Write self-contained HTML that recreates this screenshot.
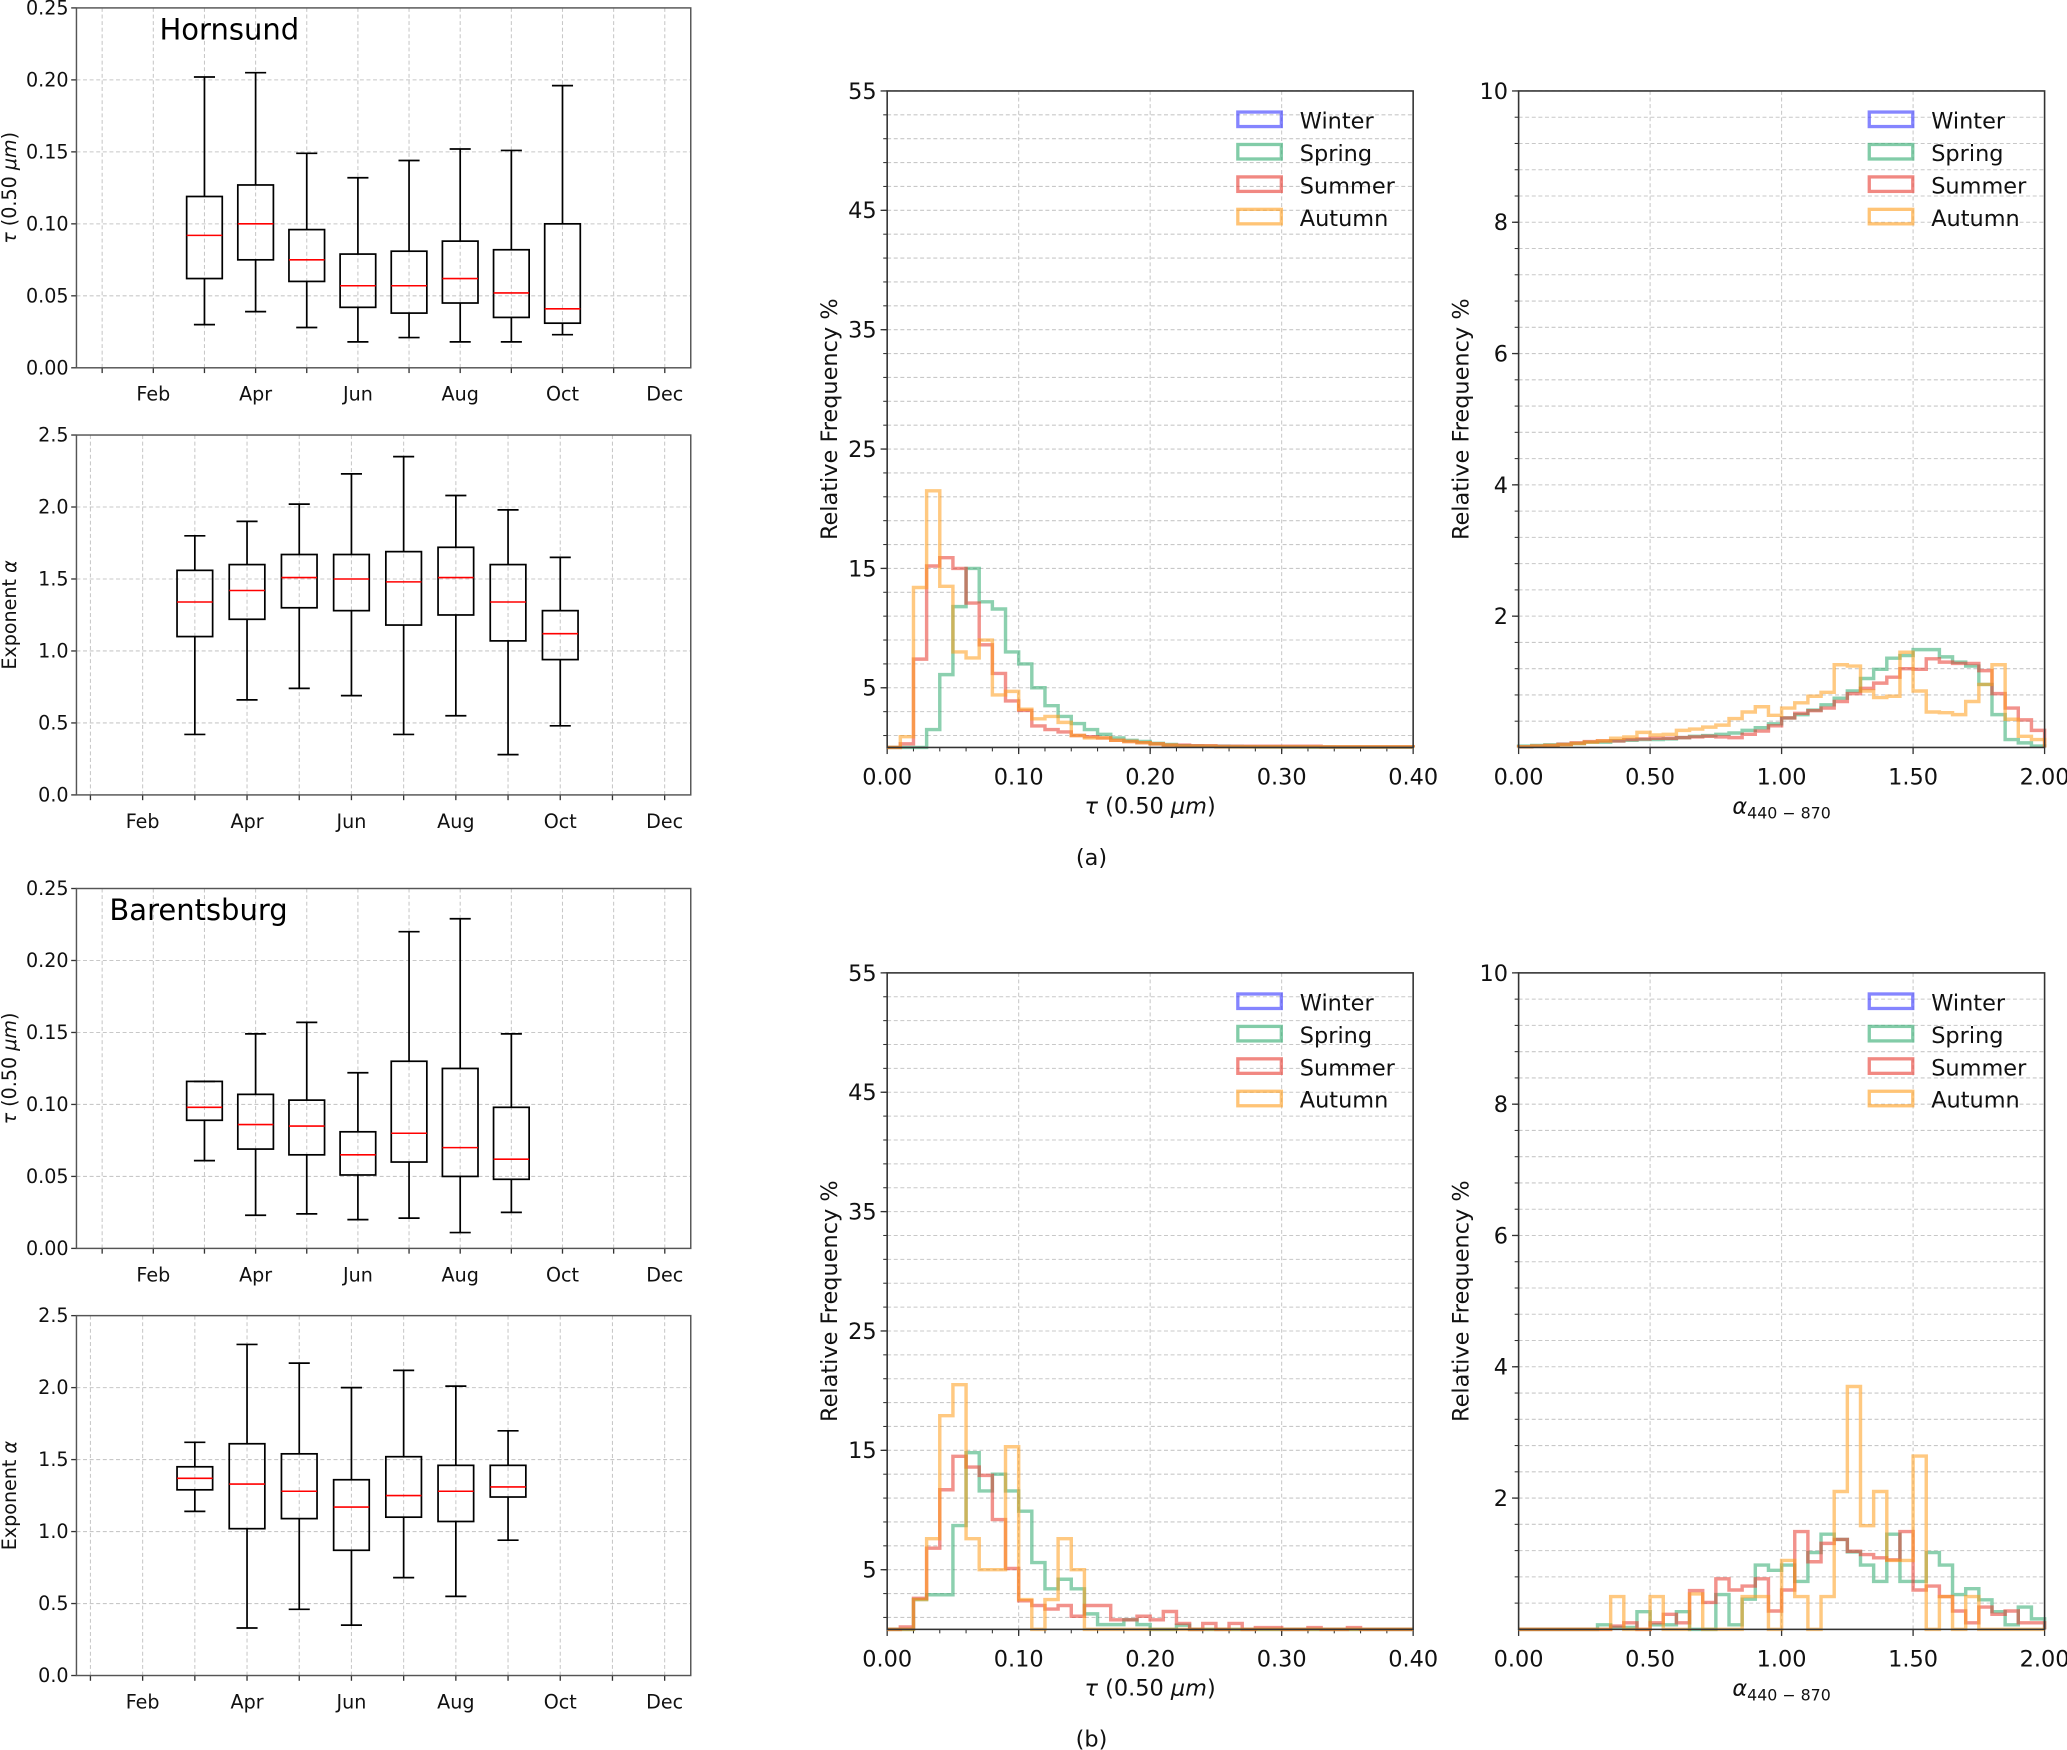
<!DOCTYPE html>
<html><head><meta charset="utf-8"><style>
html,body{margin:0;padding:0;background:#fff;}
svg{display:block;font-family:"DejaVu Sans","Liberation Sans",sans-serif;}
</style></head><body>
<svg id="fig" width="2067" height="1750" viewBox="0 0 1568 1327.5" preserveAspectRatio="none" xmlns="http://www.w3.org/2000/svg"></svg>
<script>
// ---------- Box plot data: [whislo, q1, median, q3, whishi], months starting March ----------
const monthLabels = ["Jan","Feb","Mar","Apr","May","Jun","Jul","Aug","Sep","Oct","Nov","Dec"];
const hornTau = [[0.030,0.062,0.092,0.119,0.202],[0.039,0.075,0.100,0.127,0.205],[0.028,0.060,0.075,0.096,0.149],[0.018,0.042,0.057,0.079,0.132],[0.021,0.038,0.057,0.081,0.144],[0.018,0.045,0.062,0.088,0.152],[0.018,0.035,0.052,0.082,0.151],[0.023,0.031,0.041,0.100,0.196]];
const hornAlpha = [[0.42,1.10,1.34,1.56,1.80],[0.66,1.22,1.42,1.60,1.90],[0.74,1.30,1.51,1.67,2.02],[0.69,1.28,1.50,1.67,2.23],[0.42,1.18,1.48,1.69,2.35],[0.55,1.25,1.51,1.72,2.08],[0.28,1.07,1.34,1.60,1.98],[0.48,0.94,1.12,1.28,1.65]];
const barTau = [[0.061,0.089,0.098,0.116,0.116],[0.023,0.069,0.086,0.107,0.149],[0.024,0.065,0.085,0.103,0.157],[0.020,0.051,0.065,0.081,0.122],[0.021,0.060,0.080,0.130,0.220],[0.011,0.050,0.070,0.125,0.229],[0.025,0.048,0.062,0.098,0.149]];
const barAlpha = [[1.14,1.29,1.37,1.45,1.62],[0.33,1.02,1.33,1.61,2.30],[0.46,1.09,1.28,1.54,2.17],[0.35,0.87,1.17,1.36,2.00],[0.68,1.10,1.25,1.52,2.12],[0.55,1.07,1.28,1.46,2.01],[0.94,1.24,1.31,1.46,1.70]];

// ---------- Histogram data (40 bins each) ----------
const hornTauSpring = [0,0,0,1.5,6.1,11.8,15,12.2,11.6,8,7,5,3.5,2.6,2.0,1.5,1.1,0.8,0.6,0.5,0.35,0.25,0.15,0.12,0.1,0.1,0.08,0.06,0.05,0.05,0.04,0.04,0.03,0.03,0.02,0.02,0.02,0.02,0.02,0.02];
const hornTauSummer = [0,0.3,7.4,15.2,15.9,15,12.1,8.6,6.2,3.9,3.1,1.8,1.5,1.3,1.0,0.9,0.8,0.6,0.5,0.4,0.3,0.2,0.2,0.15,0.15,0.1,0.1,0.1,0.1,0.1,0.1,0.1,0.1,0.05,0.05,0.05,0.05,0.05,0.05,0.05];
const hornTauAutumn = [0,0.9,13.4,21.5,13.5,8,7.5,9,4.4,4.7,3.2,2.4,2.6,2.1,1.0,0.8,0.8,0.6,0.5,0.4,0.3,0.2,0.1,0.1,0.1,0.05,0.05,0.05,0.05,0.05,0.05,0.05,0.05,0.05,0.05,0.05,0.05,0.05,0.05,0.05];
const hornAlphaSpring = [0.02,0.03,0.04,0.05,0.06,0.08,0.08,0.1,0.11,0.12,0.12,0.13,0.15,0.17,0.18,0.2,0.22,0.26,0.3,0.36,0.45,0.5,0.57,0.65,0.75,0.86,1.05,1.19,1.36,1.40,1.49,1.49,1.38,1.30,1.24,0.96,0.5,0.12,0.07,0.02];
const hornAlphaSummer = [0.01,0.02,0.03,0.05,0.07,0.09,0.1,0.1,0.12,0.13,0.14,0.14,0.15,0.16,0.17,0.16,0.15,0.2,0.25,0.33,0.45,0.52,0.56,0.6,0.7,0.82,0.9,0.98,1.07,1.2,1.19,1.35,1.3,1.28,1.28,1.17,0.82,0.6,0.42,0.26];
const hornAlphaAutumn = [0.01,0.02,0.03,0.04,0.06,0.08,0.1,0.14,0.16,0.23,0.19,0.2,0.26,0.28,0.31,0.34,0.44,0.54,0.62,0.49,0.6,0.68,0.78,0.84,1.26,1.24,0.86,0.76,0.78,1.45,0.86,0.54,0.53,0.5,0.7,0.96,1.26,0.43,0.17,0.12];
const barTauSpring = [0,0,2.5,2.9,2.9,8.7,14.8,11.6,13,11.6,9.9,5.6,3.4,4.2,3.4,1.3,0.4,0.4,0.8,0.4,0,0,0.35,0,0,0,0,0,0,0,0,0,0,0,0,0,0,0,0,0];
const barTauSummer = [0,0.2,2.6,6.8,11.7,14.5,13.6,12.9,9.2,5.1,2.4,2.0,1.7,2.0,1.1,2,2,0.8,0.8,1.1,0.8,1.5,0.5,0,0.5,0,0.5,0,0.15,0.15,0,0,0.15,0,0,0.15,0,0,0,0];
const barTauAutumn = [0,0,2.5,7.6,17.9,20.5,7.6,5.0,5,15.3,2.5,0,2.5,7.6,5,0,0,0,0,0,0,0,0,0,0,0,0,0,0,0,0,0,0,0,0,0,0,0,0,0];
const barAlphaSpring = [0,0,0,0,0,0,0.07,0.03,0.03,0.27,0.07,0.07,0.27,0,0,0.53,0.07,0.46,0.98,0.9,0.98,0.73,1.17,1.45,1.37,1.18,0.98,0.73,1.45,0.73,0.73,1.17,0.98,0.53,0.62,0.45,0.27,0.07,0.34,0.16];
const barAlphaSummer = [0,0,0,0,0,0,0,0.05,0.1,0,0.1,0.23,0.1,0.59,0.41,0.77,0.6,0.66,0.77,0.28,0.6,1.49,1.03,1.31,1.37,1.19,1.14,1.09,1.06,1.49,0.6,0.66,0.5,0.28,0.1,0.34,0.23,0.28,0.1,0.1];
const barAlphaAutumn = [0,0,0,0,0,0,0,0.5,0,0,0.5,0,0,0.54,0,0,0,0.5,0.5,0,1.05,0.5,0,0.5,2.1,3.7,1.58,2.1,1.05,1.05,2.64,0,0.5,0,0.5,0,0,0,0,0];
const legendLabels = ["Winter","Spring","Summer","Autumn"];

const NS = "http://www.w3.org/2000/svg";
const svg = document.getElementById("fig");
function mk(tag, attrs, parent, text) {
  const e = document.createElementNS(NS, tag);
  for (const k in attrs) e.setAttribute(k, attrs[k]);
  if (text !== undefined) e.textContent = text;
  (parent || svg).appendChild(e);
  return e;
}

// ---------- Box plot panel ----------
function boxPanel(name, top, ymax, yfmt, jan, step, data, title, ylabelKind) {
  const L = 58, R = 524, T = top, B = top + 273;
  const g = mk("g", {});
  
  
  const xs = m => jan + (m - 1) * step;
  const ys = v => B - (v / ymax) * (B - T);
  for (let m = 1; m <= 12; m++) {
    const gl = mk("line", {x1: xs(m), x2: xs(m), y1: T, y2: B, stroke: "#c8c8c8", "stroke-width": 0.8, "stroke-dasharray": "3,2"}, g);
    
    
    const tk = mk("line", {x1: xs(m), x2: xs(m), y1: B, y2: B + 4, stroke: "#333", "stroke-width": 1}, g);
    
    
    if (m % 2 === 0) {
      const t = mk("text", {x: xs(m), y: B + 25, "font-size": 14.5, "text-anchor": "middle", fill: "#111"}, g, monthLabels[m - 1]);
      
      
    }
  }
  for (let i = 0; i <= 5; i++) {
    const v = ymax * i / 5;
    if (i > 0 && i < 5) {
      const gl = mk("line", {x1: L, x2: R, y1: ys(v), y2: ys(v), stroke: "#c8c8c8", "stroke-width": 0.8, "stroke-dasharray": "3,2"}, g);
      
      
    }
    const tk = mk("line", {x1: L - 4, x2: L, y1: ys(v), y2: ys(v), stroke: "#333", "stroke-width": 1}, g);
    
    
    const t = mk("text", {x: L - 6, y: ys(v) + 5, "font-size": 14.5, "text-anchor": "end", fill: "#111"}, g, v.toFixed(yfmt));
    
    
  }
  const fr = mk("rect", {x: L, y: T, width: R - L, height: B - T, fill: "none", stroke: "#555", "stroke-width": 1.1}, g);
  
  
  data.forEach((d, i) => {
    const cx = xs(3 + i), hw = 13.5, cw = 8;
    const bg = mk("g", {stroke: "#000", "stroke-width": 1.3, fill: "none"}, g);
    
    
    mk("line", {x1: cx, x2: cx, y1: ys(d[0]), y2: ys(d[1])}, bg);
    mk("line", {x1: cx, x2: cx, y1: ys(d[3]), y2: ys(d[4])}, bg);
    mk("line", {x1: cx - cw, x2: cx + cw, y1: ys(d[0]), y2: ys(d[0])}, bg);
    mk("line", {x1: cx - cw, x2: cx + cw, y1: ys(d[4]), y2: ys(d[4])}, bg);
    mk("rect", {x: cx - hw, y: ys(d[3]), width: 2 * hw, height: ys(d[1]) - ys(d[3])}, bg);
    mk("line", {x1: cx - hw, x2: cx + hw, y1: ys(d[2]), y2: ys(d[2]), stroke: "#ff0000", "stroke-width": 1.2}, bg);
  });
  const yl = mk("text", {x: 0, y: 0, "font-size": 14.5, "text-anchor": "middle", fill: "#111", transform: `translate(12,${(T + B) / 2}) rotate(-90)`}, g);
  
  
  if (ylabelKind === "tau") {
    mk("tspan", {"font-style": "italic"}, yl, "τ");
    mk("tspan", {}, yl, " (0.50 ");
    mk("tspan", {"font-style": "italic"}, yl, "μm");
    mk("tspan", {}, yl, ")");
  } else {
    mk("tspan", {}, yl, "Exponent ");
    mk("tspan", {"font-style": "italic"}, yl, "α");
  }
  if (title) {
    const tt = mk("text", {x: title[1], y: T + 24, "font-size": 22, fill: "#000"}, g, title[0]);
    
    
  }
}
boxPanel("hornsund-tau-boxplot", 6, 0.25, 2, 77.5, 38.8, hornTau, ["Hornsund", 121], "tau");
boxPanel("hornsund-alpha-boxplot", 330, 2.5, 1, 68.6, 39.6, hornAlpha, null, "alpha");
boxPanel("barentsburg-tau-boxplot", 674, 0.25, 2, 77.5, 38.8, barTau, ["Barentsburg", 83], "tau");
boxPanel("barentsburg-alpha-boxplot", 998, 2.5, 1, 68.6, 39.6, barAlpha, null, "alpha");

// ---------- Histogram panel ----------
const seriesColors = ["#3333ff", "#2eaa6e", "#e8382e", "#ff9d1a"];
function histPanel(name, L, T, xmax, ymax, yLabels, gridStep, xTicks, xfmt, series, kind) {
  const R = L + 399, B = T + 498;
  const g = mk("g", {});
  
  
  const xs = v => L + (v / xmax) * (R - L);
  const ys = v => B - (v / ymax) * (B - T);
  for (let v = gridStep / 2 * (kind === "tau" ? 1 : 2); v <= ymax + 1e-9; v += gridStep) {
    const gl = mk("line", {x1: L, x2: R, y1: ys(v), y2: ys(v), stroke: "#c8c8c8", "stroke-width": 0.8, "stroke-dasharray": "3,2"}, g);
    
    
    const tk = mk("line", {x1: L - 3, x2: L, y1: ys(v), y2: ys(v), stroke: "#333", "stroke-width": 0.8}, g);
    
    
  }
  yLabels.forEach(v => {
    const tk = mk("line", {x1: L - 5, x2: L, y1: ys(v), y2: ys(v), stroke: "#333", "stroke-width": 1}, g);
    
    
    const t = mk("text", {x: L - 8, y: ys(v) + 6, "font-size": 17, "text-anchor": "end", fill: "#111"}, g, String(v));
    
    
  });
  xTicks.forEach((v, i) => {
    if (i > 0 && i < xTicks.length - 1) {
      const gl = mk("line", {x1: xs(v), x2: xs(v), y1: T, y2: B, stroke: "#c8c8c8", "stroke-width": 0.8, "stroke-dasharray": "3,2"}, g);
      
      
    }
    const tk = mk("line", {x1: xs(v), x2: xs(v), y1: B, y2: B + 5, stroke: "#333", "stroke-width": 1}, g);
    
    
    const t = mk("text", {x: xs(v), y: B + 28, "font-size": 17, "text-anchor": "middle", fill: "#111"}, g, v.toFixed(xfmt));
    
    
  });
  if (kind === "tau") {
    for (let v = 0.02; v < xmax; v += 0.02) {
      const tk = mk("line", {x1: xs(v), x2: xs(v), y1: B, y2: B + 3, stroke: "#333", "stroke-width": 0.8}, g);
      
      
    }
  }
  series.forEach((vals, si) => {
    const bw = xmax / vals.length;
    let d = `M${xs(0)},${ys(0)}`;
    vals.forEach((v, i) => { d += ` L${xs(i * bw)},${ys(v)} L${xs((i + 1) * bw)},${ys(v)}`; });
    d += ` L${xs(xmax)},${ys(0)}`;
    const p = mk("path", {d: d, fill: "none", stroke: seriesColors[si + 1], "stroke-opacity": 0.55, "stroke-width": 2.6, "stroke-linejoin": "miter"}, g);
    
    
  });
  const fr = mk("rect", {x: L, y: T, width: R - L, height: B - T, fill: "none", stroke: "#333", "stroke-width": 1.2}, g);
  
  
  const lg = mk("g", {}, g);
  
  
  legendLabels.forEach((lab, i) => {
    const y = T + 22 + i * 24.6;
    const e = mk("g", {}, lg);
    
    
    mk("rect", {x: L + 266, y: y - 6, width: 33, height: 11, fill: "none", stroke: seriesColors[i], "stroke-opacity": 0.6, "stroke-width": 2.5}, e);
    mk("text", {x: L + 313, y: y + 6.5, "font-size": 17, fill: "#111"}, e, lab);
  });
  const yl = mk("text", {x: 0, y: 0, "font-size": 17, "text-anchor": "middle", fill: "#111", transform: `translate(${L - 38},${T + 249}) rotate(-90)`}, g, "Relative Frequency %");
  
  
  const xl = mk("text", {x: (L + R) / 2, y: B + 50, "font-size": 17, "text-anchor": "middle", fill: "#111"}, g);
  
  
  if (kind === "tau") {
    mk("tspan", {"font-style": "italic"}, xl, "τ");
    mk("tspan", {}, xl, " (0.50 ");
    mk("tspan", {"font-style": "italic"}, xl, "μm");
    mk("tspan", {}, xl, ")");
  } else {
    mk("tspan", {"font-style": "italic"}, xl, "α");
    mk("tspan", {"font-size": 12, dy: 4}, xl, "440 − 870");
  }
}
const tauYLabels = [5, 15, 25, 35, 45, 55];
const alphaYLabels = [2, 4, 6, 8, 10];
const tauXTicks = [0, 0.1, 0.2, 0.3, 0.4];
const alphaXTicks = [0, 0.5, 1.0, 1.5, 2.0];
histPanel("hornsund-tau-histogram", 673, 69, 0.4, 55, tauYLabels, 2, tauXTicks, 2, [hornTauSpring, hornTauSummer, hornTauAutumn], "tau");
histPanel("hornsund-alpha-histogram", 1152, 69, 2, 10, alphaYLabels, 0.4, alphaXTicks, 2, [hornAlphaSpring, hornAlphaSummer, hornAlphaAutumn], "alpha");
histPanel("barentsburg-tau-histogram", 673, 738, 0.4, 55, tauYLabels, 2, tauXTicks, 2, [barTauSpring, barTauSummer, barTauAutumn], "tau");
histPanel("barentsburg-alpha-histogram", 1152, 738, 2, 10, alphaYLabels, 0.4, alphaXTicks, 2, [barAlphaSpring, barAlphaSummer, barAlphaAutumn], "alpha");

const ca = mk("text", {x: 828, y: 656, "font-size": 17, "text-anchor": "middle", fill: "#111"}, svg, "(a)");


const cb = mk("text", {x: 828, y: 1325, "font-size": 17, "text-anchor": "middle", fill: "#111"}, svg, "(b)");


</script>
</body></html>
